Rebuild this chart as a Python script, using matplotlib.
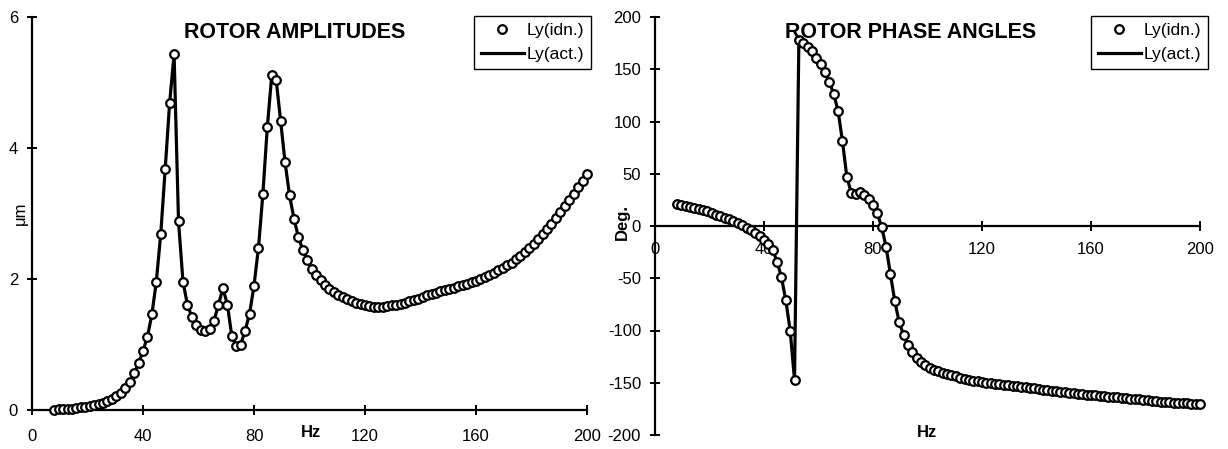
import matplotlib.pyplot as plt

plt.rcParams["font.family"] = ["Liberation Sans", "DejaVu Sans"]
plt.rcParams["axes.unicode_minus"] = False

# --- Data --- #
freq = [8.0, 9.6, 11.2, 12.8, 14.4, 16.0, 17.6, 19.2, 20.8, 22.4,
        24.0, 25.6, 27.2, 28.8, 30.4, 32.0, 33.6, 35.2, 36.8, 38.4,
        40.0, 41.6, 43.2, 44.8, 46.4, 48.0, 49.6, 51.2, 52.8, 54.4,
        56.0, 57.6, 59.2, 60.8, 62.4, 64.0, 65.6, 67.2, 68.8, 70.4,
        72.0, 73.6, 75.2, 76.8, 78.4, 80.0, 81.6, 83.2, 84.8, 86.4,
        88.0, 89.6, 91.2, 92.8, 94.4, 96.0, 97.6, 99.2, 100.8, 102.4,
        104.0, 105.6, 107.2, 108.8, 110.4, 112.0, 113.6, 115.2, 116.8, 118.4,
        120.0, 121.6, 123.2, 124.8, 126.4, 128.0, 129.6, 131.2, 132.8, 134.4,
        136.0, 137.6, 139.2, 140.8, 142.4, 144.0, 145.6, 147.2, 148.8, 150.4,
        152.0, 153.6, 155.2, 156.8, 158.4, 160.0, 161.6, 163.2, 164.8, 166.4,
        168.0, 169.6, 171.2, 172.8, 174.4, 176.0, 177.6, 179.2, 180.8, 182.4,
        184.0, 185.6, 187.2, 188.8, 190.4, 192.0, 193.6, 195.2, 196.8, 198.4,
        200.0]

# amplitude in micrometres
amp = [0.00, 0.01, 0.01, 0.02, 0.02, 0.03, 0.04, 0.05, 0.06, 0.07,
       0.09, 0.11, 0.14, 0.17, 0.21, 0.26, 0.33, 0.43, 0.56, 0.71,
       0.90, 1.12, 1.46, 1.96, 2.69, 3.68, 4.69, 5.43, 2.88, 1.96,
       1.61, 1.42, 1.30, 1.22, 1.20, 1.24, 1.36, 1.61, 1.86, 1.61,
       1.13, 0.98, 1.00, 1.21, 1.47, 1.90, 2.47, 3.30, 4.32, 5.11,
       5.04, 4.41, 3.78, 3.28, 2.92, 2.64, 2.44, 2.29, 2.16, 2.06,
       1.98, 1.91, 1.85, 1.80, 1.75, 1.72, 1.69, 1.66, 1.64, 1.62,
       1.60, 1.59, 1.58, 1.58, 1.58, 1.59, 1.60, 1.61, 1.62, 1.64,
       1.66, 1.68, 1.70, 1.72, 1.75, 1.77, 1.79, 1.81, 1.83, 1.85,
       1.87, 1.89, 1.91, 1.93, 1.95, 1.97, 2.00, 2.03, 2.06, 2.09,
       2.13, 2.17, 2.21, 2.25, 2.30, 2.35, 2.41, 2.47, 2.54, 2.61,
       2.68, 2.76, 2.84, 2.93, 3.02, 3.11, 3.20, 3.30, 3.40, 3.50,
       3.60]

# phase in degrees
phase = [21.5, 20.5, 19.5, 18.5, 17.5, 16.5, 15.5, 14.0, 12.5, 11.0,
         9.5, 8.0, 6.5, 4.5, 2.5, 0.5, -1.5, -4.0, -7.0, -10.0,
         -13.0, -17.0, -23.0, -34.0, -49.0, -71.0, -100.0, -147.0, 178.0, 175.0,
         171.0, 167.0, 161.0, 155.0, 147.0, 138.0, 126.0, 110.0, 81.0, 47.0,
         32.0, 31.0, 33.0, 30.0, 26.0, 20.0, 12.0, -1.0, -20.0, -46.0,
         -72.0, -92.0, -104.0, -114.0, -121.0, -126.0, -130.0, -133.0, -135.5, -137.5,
         -139.0, -140.5, -142.0, -143.0, -144.0, -145.0, -146.0, -147.0, -148.0, -148.5,
         -149.5, -150.0, -150.5, -151.0, -151.5, -152.0, -152.5, -153.0, -153.5, -154.0,
         -154.5, -155.0, -155.5, -156.0, -156.5, -157.0, -157.5, -158.0, -158.5, -159.0,
         -159.5, -160.0, -160.5, -161.0, -161.3, -161.6, -162.0, -162.4, -162.8, -163.2,
         -163.6, -164.0, -164.4, -164.8, -165.2, -165.6, -166.0, -166.4, -166.8, -167.2,
         -167.6, -168.0, -168.3, -168.6, -168.9, -169.2, -169.5, -169.8, -170.1, -170.4,
         -170.7]

x_ticks = [0, 40, 80, 120, 160, 200]
amp_ticks = [0, 2, 4, 6]
phase_ticks = [-200, -150, -100, -50, 0, 50, 100, 150, 200]

W, H = 1228, 449
fig = plt.figure(figsize=(W / 100, H / 100), dpi=100)

ax1 = fig.add_axes([32 / W, 39 / H, 555 / W, 393 / H])
ax2 = fig.add_axes([655 / W, 14 / H, 545 / W, 418 / H])


def draw(ax, y):
    ax.plot(freq, y, "o", mfc="white", mec="black", ms=6.2, mew=1.6,
            label="Ly(idn.)", zorder=3, clip_on=False)
    ax.plot(freq, y, "-", color="black", lw=2.3, label="Ly(act.)",
            zorder=2, clip_on=False)
    for side in ["top", "right"]:
        ax.spines[side].set_visible(False)
    for side in ["left", "bottom"]:
        ax.spines[side].set_linewidth(1.6)
    ax.set_xlim(0, 200)
    ax.set_xticks(x_ticks)
    ax.tick_params(direction="inout", length=6.5, width=1.4, labelsize=12)


# --- Left panel: amplitudes --- #
draw(ax1, amp)
ax1.set_ylim(0, 6)
ax1.set_yticks(amp_ticks)
ax1.tick_params(axis="x", pad=10.5)
ax1.tick_params(axis="y", pad=6.8)

# --- Right panel: phase angles --- #
draw(ax2, phase)
ax2.set_ylim(-200, 200)
ax2.set_yticks(phase_ticks)
ax2.spines["bottom"].set_position(("data", 0))
ax2.tick_params(axis="x", pad=8.3)
ax2.tick_params(axis="y", pad=6.8)

# --- Titles and labels --- #
fig.text(295 / W, 1 - 38.3 / H, "ROTOR AMPLITUDES", ha="center",
         va="baseline", fontsize=15.5, fontweight="bold")
fig.text(911 / W, 1 - 38.3 / H, "ROTOR PHASE ANGLES", ha="center",
         va="baseline", fontsize=15.5, fontweight="bold")
fig.text(311 / W, 1 - 437 / H, "Hz", ha="center", va="baseline",
         fontsize=12, fontweight="bold")
fig.text(927 / W, 1 - 437 / H, "Hz", ha="center", va="baseline",
         fontsize=12, fontweight="bold")
fig.text(20 / W, 1 - 213 / H, "μm", ha="center", va="center",
         rotation=90, fontsize=12)
fig.text(622 / W, 1 - 222 / H, "Deg.", ha="center", va="center",
         rotation=90, fontsize=12, fontweight="bold")

# --- Legends --- #
for ax, right in [(ax1, 591), (ax2, 1208)]:
    leg = ax.legend(loc="upper right", bbox_to_anchor=(right / W, 1 - 16 / H),
                    bbox_transform=fig.transFigure, borderaxespad=0,
                    fontsize=12.5, numpoints=1, handlelength=2.5,
                    handletextpad=0.15, borderpad=0.4, labelspacing=0.5,
                    fancybox=False, framealpha=1, edgecolor="black")
    leg.get_frame().set_linewidth(1.0)
    leg.set_zorder(5)

fig.savefig("out.png", dpi=100)
